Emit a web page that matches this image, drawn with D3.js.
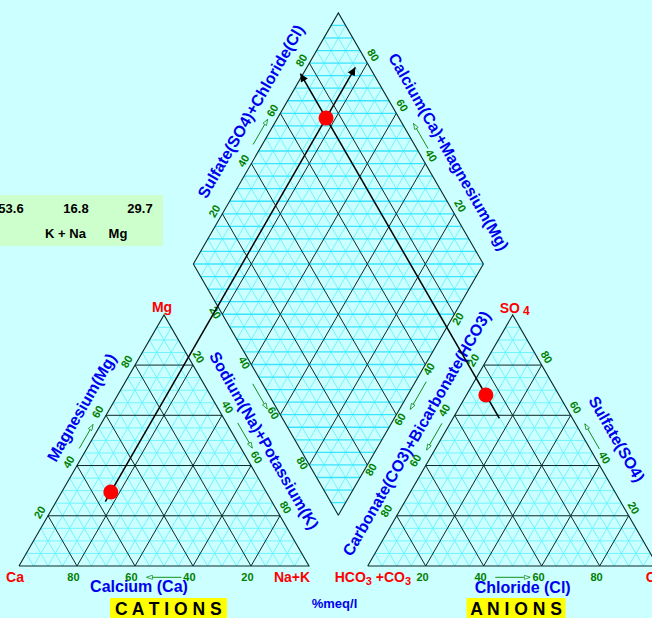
<!DOCTYPE html>
<html>
<head>
<meta charset="utf-8">
<script src="https://cdn.jsdelivr.net/npm/d3@7"></script>
<style>
  body { margin: 0; background: #ccffff; }
  svg { display: block; font-family: "Liberation Sans", Arial, sans-serif; }
</style>
</head>
<body>
<div id="chart"></div>
<script>
// sample composition (% meq/l)
const cationNames = ["Ca", "K + Na", "Mg"];
const cationValues = [53.6, 16.8, 29.7];
const anionNames = ["HCO3+CO3", "SO4", "Cl"];
const anionValues = [25.2, 68.1, 6.7];
const ticks = [20, 40, 60, 80];

const W = 652, H = 618;
const S = 290;            // side of each triangle
const base = 566;         // baseline of both triangles
const x0 = 19;            // Ca vertex
const gap = 58.7;         // gap between triangles
const h = Math.sqrt(3) / 2;

const frac = d3.scaleLinear().domain([0, 100]).range([0, 1]);

const CA = [x0, base], NK = [x0 + S, base], MG = [x0 + S / 2, base - S * h];
const ax0 = x0 + S + gap;
const HC = [ax0, base], CL = [ax0 + S, base], SO = [ax0 + S / 2, base - S * h];
const B = [x0 + S + gap / 2, base - gap * h];
const L = [B[0] - S / 2, B[1] - S * h], R = [B[0] + S / 2, B[1] - S * h], T = [B[0], B[1] - 2 * S * h];

function bary(A, Bv, C, a, b, c) {
  return [A[0] * frac(a) + Bv[0] * frac(b) + C[0] * frac(c), A[1] * frac(a) + Bv[1] * frac(b) + C[1] * frac(c)];
}
function dia(cm, sc) {
  return [B[0] + frac(cm) * (L[0] - B[0]) + frac(sc) * (R[0] - B[0]),
          B[1] + frac(cm) * (L[1] - B[1]) + frac(sc) * (R[1] - B[1])];
}
function edge(P0, P1, inside) {
  const dx = P1[0] - P0[0], dy = P1[1] - P0[1], len = Math.hypot(dx, dy);
  const u = [dx / len, dy / len];
  let n = [u[1], -u[0]];
  const m = [(P0[0] + P1[0]) / 2, (P0[1] + P1[1]) / 2];
  if ((inside[0] - m[0]) * n[0] + (inside[1] - m[1]) * n[1] > 0) n = [-n[0], -n[1]];
  return {
    at: (v, off = 0) => [P0[0] + dx * frac(v) + n[0] * off, P0[1] + dy * frac(v) + n[1] * off]
  };
}

const svg = d3.select("#chart").append("svg").attr("width", W).attr("height", H);
svg.append("rect").attr("width", W).attr("height", H).attr("fill", "#ccffff");

const defs = svg.append("defs");
defs.append("marker").attr("id", "arrowBlack")
  .attr("viewBox", "0 0 10 10").attr("refX", 10).attr("refY", 5)
  .attr("markerWidth", 10).attr("markerHeight", 8).attr("markerUnits", "userSpaceOnUse")
  .attr("orient", "auto")
  .append("path").attr("d", "M0,0L10,5L0,10z").attr("fill", "#000");
defs.append("marker").attr("id", "arrowGreen")
  .attr("viewBox", "0 0 8 6").attr("refX", 7.5).attr("refY", 3)
  .attr("markerWidth", 7).attr("markerHeight", 5).attr("markerUnits", "userSpaceOnUse")
  .attr("orient", "auto")
  .append("path").attr("d", "M0.5,0.5L7.5,3L0.5,5.5z").attr("fill", "#ccffff")
  .attr("stroke", "#008000").attr("stroke-width", 0.8);

const line = d3.line();

// ---- grids
const fine = d3.range(5, 100, 5).filter(v => v % 20 !== 0);
const gridG = svg.append("g");
const blackG = svg.append("g");

function triLines(A, Bv, C, vals) {
  const out = [];
  vals.forEach(v => {
    out.push([bary(A, Bv, C, v, 100 - v, 0), bary(A, Bv, C, v, 0, 100 - v)]);
    out.push([bary(A, Bv, C, 100 - v, v, 0), bary(A, Bv, C, 0, v, 100 - v)]);
    out.push([bary(A, Bv, C, 100 - v, 0, v), bary(A, Bv, C, 0, 100 - v, v)]);
  });
  return out;
}
function diaLines(vals) {
  const out = [];
  vals.forEach(v => {
    out.push([dia(v, 0), dia(v, 100)]);
    out.push([dia(0, v), dia(100, v)]);
  });
  return out;
}
const diaRows = d3.range(5, 200, 5).map(s => s <= 100 ? [dia(s, 0), dia(0, s)] : [dia(100, s - 100), dia(s - 100, 100)]);

const cyanLines = [...triLines(CA, NK, MG, fine), ...triLines(HC, CL, SO, fine), ...diaLines(fine)];
gridG.selectAll("path.fine").data(cyanLines).join("path").attr("class", "fine")
  .attr("d", line).attr("stroke", "#70f4ff").attr("stroke-width", 1).attr("fill", "none");
gridG.selectAll("path.row").data(diaRows).join("path").attr("class", "row")
  .attr("d", line).attr("stroke", "#38e4ff").attr("stroke-width", 1.3).attr("fill", "none");

const darkLines = [...triLines(CA, NK, MG, ticks), ...triLines(HC, CL, SO, ticks), ...diaLines(ticks)];
blackG.selectAll("path.major").data(darkLines).join("path").attr("class", "major")
  .attr("d", line).attr("stroke", "#0a2a2a").attr("stroke-width", 1).attr("fill", "none");
blackG.selectAll("path.outline").data([[CA, NK, MG, CA], [HC, CL, SO, HC], [B, R, T, L, B]]).join("path")
  .attr("class", "outline").attr("d", line).attr("stroke", "#0a2a2a").attr("stroke-width", 1.1).attr("fill", "none");

// ---- axes: tick labels, little arrows, titles
const cIn = [x0 + S / 2, base - 80], aIn = [ax0 + S / 2, base - 80], dIn = [B[0], (B[1] + T[1]) / 2];
const axes = [
  { e: edge(NK, CA, cIn), dx: -3.6, dy: 10.5, rot: 0, arrow: [44, 56], aoff: 11.3 },
  { e: edge(CA, MG, cIn), dx: -8.5, dy: -3.6, rot: -60, arrow: [45.5, 55], aoff: 6.6, title: "Magnesium(Mg)", tv: 58.1, toff: 25 },
  { e: edge(MG, NK, cIn), dx: 5.8, dy: -8.4, rot: 60, arrow: [45, 55], aoff: 9.8, title: "Sodium(Na)+Potassium(K)", tv: 54.8, toff: 23.8 },
  { e: edge(HC, CL, aIn), dx: -3.2, dy: 10.5, rot: 0, arrow: [44, 56], aoff: 11.3 },
  { e: edge(SO, HC, aIn), dx: -10.5, dy: -5, rot: -60, arrow: [44.6, 55.2], aoff: 7, title: "Carbonate(CO3)+Bicarbonate(HCO3)", tv: 52, toff: 24 },
  { e: edge(CL, SO, aIn), dx: 5, dy: -8, rot: 60, arrow: [45, 55], aoff: 8, title: "Sulfate(SO4)", tv: 45, toff: 28 },
  { e: edge(L, T, dIn), dx: -8, dy: -2.8, rot: -60, arrow: [46, 56], aoff: 8, title: "Sulfate(SO4)+Chloride(Cl)", tv: 55.5, toff: 26.4 },
  { e: edge(R, T, dIn), dx: 6, dy: -8, rot: 60, arrow: [44, 54], aoff: 9.8, title: "Calcium(Ca)+Magnesium(Mg)", tv: 39.5, toff: 26 },
  { e: edge(L, B, dIn), dx: -6.8, dy: -1.8, rot: 60, arrow: [46, 56], aoff: 8.5 },
  { e: edge(R, B, dIn), dx: 3.5, dy: 4.5, rot: -60, arrow: [45, 56], aoff: 9.4 }
];

const axisG = svg.append("g");
axes.forEach(a => {
  axisG.append("g").selectAll("text").data(ticks).join("text")
    .attr("transform", v => { const p = a.e.at(v); return `translate(${p[0] + a.dx},${p[1] + a.dy}) rotate(${a.rot})`; })
    .attr("text-anchor", "middle").attr("dominant-baseline", "central")
    .style("font-size", "11px").style("font-weight", "bold").style("fill", "#008000")
    .text(v => v);
  axisG.append("path")
    .attr("d", line([a.e.at(a.arrow[0], a.aoff), a.e.at(a.arrow[1], a.aoff)]))
    .attr("stroke", "#008000").attr("stroke-width", 0.9).attr("fill", "none")
    .attr("marker-end", "url(#arrowGreen)");
  if (a.title) {
    const p = a.e.at(a.tv, a.toff);
    axisG.append("text")
      .attr("transform", `translate(${p[0]},${p[1]}) rotate(${a.rot})`)
      .attr("text-anchor", "middle").attr("dominant-baseline", "central")
      .style("font-size", "16px").style("font-weight", "bold").style("fill", "#0000ee")
      .text(a.title);
  }
});

// bottom titles
const bottomTitles = [
  { text: "Calcium (Ca)", x: (CA[0] + NK[0]) / 2 - 25, y: 592 },
  { text: "Chloride (Cl)", x: (HC[0] + CL[0]) / 2 + 10, y: 593 }
];
svg.selectAll("text.btitle").data(bottomTitles).join("text").attr("class", "btitle")
  .attr("x", d => d.x).attr("y", d => d.y).attr("text-anchor", "middle")
  .style("font-size", "16px").style("font-weight", "bold").style("fill", "#0000ee")
  .text(d => d.text);

// vertex names (red)
const red = "#ff0000";
function redText(x, y, anchor) {
  return svg.append("text").attr("x", x).attr("y", y).attr("text-anchor", anchor)
    .style("font-size", "14px").style("font-weight", "bold").style("fill", red);
}
redText(CA[0] - 4, 582, "middle").text("Ca");
redText(NK[0] - 17, 582, "middle").text("Na+K");
redText(MG[0] - 2, 312, "middle").text("Mg");
const so = redText(SO[0] - 13, 313, "start");
so.append("tspan").text("SO");
so.append("tspan").attr("dx", 3).attr("dy", 1.5).style("font-size", "12px").text("4");
const hc = redText(HC[0] - 33, 582, "start");
hc.append("tspan").text("HCO");
hc.append("tspan").attr("dy", 3).style("font-size", "11px").text("3");
hc.append("tspan").attr("dy", -3).text(" +CO");
hc.append("tspan").attr("dy", 3).style("font-size", "11px").text("3");
redText(CL[0] - 12, 582, "start").text("Cl");

// yellow group labels
const groups = [
  { text: "C A T I O N S", x: 168.3, x1: 110, x2: 227 },
  { text: "A N I O N S", x: 516, x1: 466.5, x2: 565.5 }
];
svg.selectAll("rect.grp").data(groups).join("rect").attr("class", "grp")
  .attr("x", d => d.x1).attr("y", 598).attr("width", d => d.x2 - d.x1).attr("height", 22)
  .attr("fill", "#ffff00");
svg.selectAll("text.grp").data(groups).join("text").attr("class", "grp")
  .attr("x", d => d.x).attr("y", 615).attr("text-anchor", "middle")
  .style("font-size", "17.5px").style("font-weight", "bold").style("fill", "#000")
  .text(d => d.text);

svg.append("text").attr("x", 334.5).attr("y", 608).attr("text-anchor", "middle")
  .style("font-size", "13px").style("font-weight", "bold").style("fill", "#0000ee")
  .text("%meq/l");

// ---- sample table (partly off-canvas)
const tableValueX = [11, 76, 140];
const tableHeadX = [-14, 65.5, 118];
svg.append("rect").attr("x", -60).attr("y", 195).attr("width", 223).attr("height", 51).attr("fill", "#ccffcc");
svg.selectAll("text.tval").data(cationValues).join("text").attr("class", "tval")
  .attr("x", (d, i) => tableValueX[i]).attr("y", 212.5).attr("text-anchor", "middle")
  .style("font-size", "13px").style("font-weight", "bold").text(d => d.toFixed(1));
svg.selectAll("text.thead").data(cationNames).join("text").attr("class", "thead")
  .attr("x", (d, i) => tableHeadX[i]).attr("y", 238).attr("text-anchor", "middle")
  .style("font-size", "13px").style("font-weight", "bold").text(d => d);

// ---- projections
const [ca, nak, mg] = cationValues;
const [hco3, so4, cl] = anionValues;
const pC = bary(CA, NK, MG, ca, nak, mg);
const pA = bary(HC, CL, SO, hco3, cl, so4);
const pD = dia(ca + mg, so4 + cl);
const cStart = [pC[0] - 11 * 0.5, pC[1] + 11 * h];
const aStart = [pA[0] + 27 * 0.5, pA[1] + 27 * h];
const cEnd = dia(ca + mg, 95);
const aEnd = dia(101, so4 + cl);

const projG = svg.append("g");
projG.selectAll("path").data([[cStart, cEnd], [aStart, aEnd]]).join("path")
  .attr("d", line).attr("stroke", "#000").attr("stroke-width", 1.5).attr("fill", "none")
  .attr("marker-end", "url(#arrowBlack)");
projG.selectAll("circle").data([pC, pA, pD]).join("circle")
  .attr("cx", d => d[0]).attr("cy", d => d[1]).attr("r", 7.5).attr("fill", "#ff0000");
</script>
</body>
</html>
